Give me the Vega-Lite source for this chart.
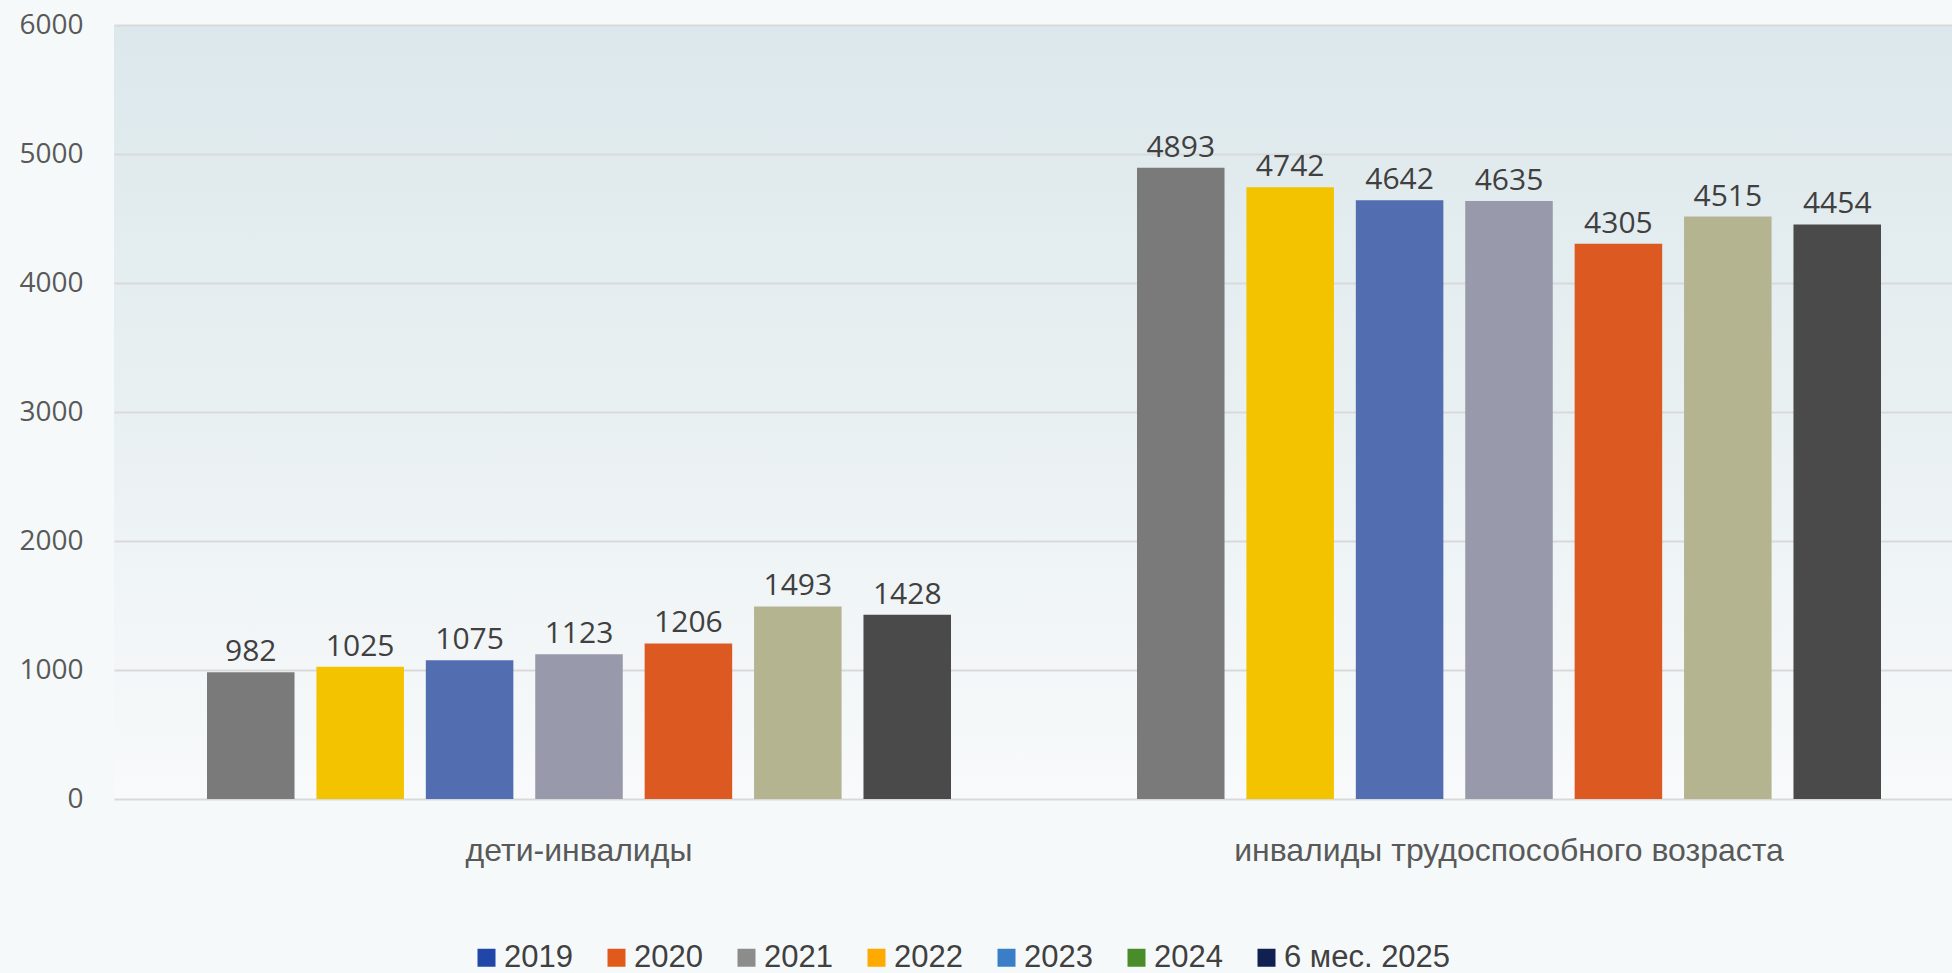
{
  "$schema": "https://vega.github.io/schema/vega-lite/v6.json",
  "width": 1860,
  "height": 774,
  "autosize": {"type": "none"},
  "padding": {"left": 114, "top": 25, "right": 0, "bottom": 174},
  "background": "#f6f9fa",
  "config": {
    "view": {"stroke": null, "fill": {"gradient": "linear", "x1": 0, "y1": 0, "x2": 0, "y2": 1, "stops": [{"offset": 0, "color": "#dce8ec"}, {"offset": 0.5, "color": "#e9f0f2"}, {"offset": 1, "color": "#f8fafb"}]}},
    "axis": {"domain": false, "ticks": false}
  },
  "data": {
    "values": [
      {"category": "дети-инвалиды", "idx": 1, "year": "2019", "value": 982, "barColor": "#7a7a7a"},
      {"category": "дети-инвалиды", "idx": 2, "year": "2020", "value": 1025, "barColor": "#f4c300"},
      {"category": "дети-инвалиды", "idx": 3, "year": "2021", "value": 1075, "barColor": "#526db0"},
      {"category": "дети-инвалиды", "idx": 4, "year": "2022", "value": 1123, "barColor": "#9899ab"},
      {"category": "дети-инвалиды", "idx": 5, "year": "2023", "value": 1206, "barColor": "#dc5922"},
      {"category": "дети-инвалиды", "idx": 6, "year": "2024", "value": 1493, "barColor": "#b4b491"},
      {"category": "дети-инвалиды", "idx": 7, "year": "6 мес. 2025", "value": 1428, "barColor": "#4a4a4a"},
      {"category": "инвалиды трудоспособного возраста", "idx": 1, "year": "2019", "value": 4893, "barColor": "#7a7a7a"},
      {"category": "инвалиды трудоспособного возраста", "idx": 2, "year": "2020", "value": 4742, "barColor": "#f4c300"},
      {"category": "инвалиды трудоспособного возраста", "idx": 3, "year": "2021", "value": 4642, "barColor": "#526db0"},
      {"category": "инвалиды трудоспособного возраста", "idx": 4, "year": "2022", "value": 4635, "barColor": "#9899ab"},
      {"category": "инвалиды трудоспособного возраста", "idx": 5, "year": "2023", "value": 4305, "barColor": "#dc5922"},
      {"category": "инвалиды трудоспособного возраста", "idx": 6, "year": "2024", "value": 4515, "barColor": "#b4b491"},
      {"category": "инвалиды трудоспособного возраста", "idx": 7, "year": "6 мес. 2025", "value": 4454, "barColor": "#4a4a4a"}
    ]
  },
  "encoding": {
    "x": {
      "field": "category", "type": "nominal", "title": null,
      "scale": {"paddingInner": 0.2, "paddingOuter": 0.1},
      "axis": {"labelAngle": 0, "labelFont": "Liberation Sans", "labelFontSize": 32, "labelColor": "#595959", "labelPadding": 36, "labelLimit": 1200, "grid": false}
    },
    "xOffset": {"field": "idx", "type": "ordinal", "scale": {"paddingInner": 0.2, "paddingOuter": 0}},
    "y": {
      "field": "value", "type": "quantitative", "title": null,
      "scale": {"domain": [0, 6000], "nice": false},
      "axis": {"values": [0, 1000, 2000, 3000, 4000, 5000, 6000], "format": "d", "labelFont": "Open Sans", "labelFontSize": 28, "labelColor": "#595959", "labelPadding": 31, "gridColor": "#d9d9d9", "gridWidth": 2}
    }
  },
  "layer": [
    {
      "mark": {"type": "bar"},
      "encoding": {"fill": {"field": "barColor", "type": "nominal", "scale": null}}
    },
    {
      "mark": {"type": "text", "baseline": "alphabetic", "dy": -11, "font": "Open Sans", "fontSize": 30, "color": "#404040"},
      "encoding": {"text": {"field": "value", "type": "quantitative", "format": "d"}}
    },
    {
      "mark": {"type": "square", "opacity": 0, "size": 1},
      "encoding": {
        "color": {
          "field": "year", "type": "nominal",
          "scale": {"domain": ["2019", "2020", "2021", "2022", "2023", "2024", "6 мес. 2025"], "range": ["#2047a8", "#e05a1c", "#8c8c8c", "#ffaa00", "#3a7ec8", "#4a8c2a", "#102050"]},
          "legend": {
            "title": null, "orient": "none", "direction": "horizontal", "legendX": 357, "legendY": 917,
            "symbolType": "square", "symbolSize": 324, "symbolOpacity": 1, "symbolStrokeWidth": 0,
            "labelFont": "Liberation Sans", "labelFontSize": 31, "labelColor": "#404040", "labelOffset": 2,
            "columnPadding": 28, "labelLimit": 400
          }
        }
      }
    }
  ]
}
